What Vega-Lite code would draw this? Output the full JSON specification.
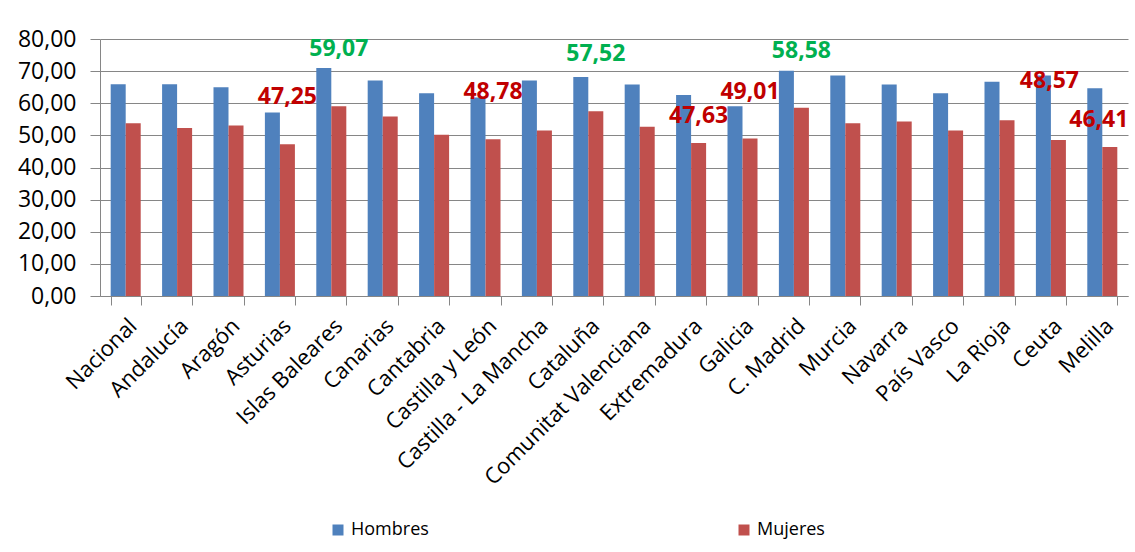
{
  "$schema": "https://vega.github.io/schema/vega-lite/v6.json",
  "width": 1028,
  "height": 257,
  "padding": {"left": 17, "top": 28, "right": 5, "bottom": 5},
  "background": "white",
  "config": {
    "locale": {"number": {"decimal": ",", "thousands": ".", "grouping": [3], "currency": ["", " €"]}},
    "font": "Open Sans",
    "view": {"stroke": null}
  },
  "data": {
    "values": [
      {"region": "Nacional", "sexo": "Hombres", "valor": 65.9},
      {"region": "Nacional", "sexo": "Mujeres", "valor": 53.8},
      {"region": "Andalucía", "sexo": "Hombres", "valor": 65.9},
      {"region": "Andalucía", "sexo": "Mujeres", "valor": 52.3},
      {"region": "Aragón", "sexo": "Hombres", "valor": 65.0},
      {"region": "Aragón", "sexo": "Mujeres", "valor": 53.1},
      {"region": "Asturias", "sexo": "Hombres", "valor": 57.1},
      {"region": "Asturias", "sexo": "Mujeres", "valor": 47.25},
      {"region": "Islas Baleares", "sexo": "Hombres", "valor": 71.0},
      {"region": "Islas Baleares", "sexo": "Mujeres", "valor": 59.07},
      {"region": "Canarias", "sexo": "Hombres", "valor": 67.1},
      {"region": "Canarias", "sexo": "Mujeres", "valor": 55.9},
      {"region": "Cantabria", "sexo": "Hombres", "valor": 63.1},
      {"region": "Cantabria", "sexo": "Mujeres", "valor": 50.2},
      {"region": "Castilla y León", "sexo": "Hombres", "valor": 61.8},
      {"region": "Castilla y León", "sexo": "Mujeres", "valor": 48.78},
      {"region": "Castilla - La Mancha", "sexo": "Hombres", "valor": 67.1},
      {"region": "Castilla - La Mancha", "sexo": "Mujeres", "valor": 51.5},
      {"region": "Cataluña", "sexo": "Hombres", "valor": 68.2},
      {"region": "Cataluña", "sexo": "Mujeres", "valor": 57.52},
      {"region": "Comunitat Valenciana", "sexo": "Hombres", "valor": 65.8},
      {"region": "Comunitat Valenciana", "sexo": "Mujeres", "valor": 52.7},
      {"region": "Extremadura", "sexo": "Hombres", "valor": 62.6},
      {"region": "Extremadura", "sexo": "Mujeres", "valor": 47.63},
      {"region": "Galicia", "sexo": "Hombres", "valor": 59.1},
      {"region": "Galicia", "sexo": "Mujeres", "valor": 49.01},
      {"region": "C. Madrid", "sexo": "Hombres", "valor": 70.1},
      {"region": "C. Madrid", "sexo": "Mujeres", "valor": 58.58},
      {"region": "Murcia", "sexo": "Hombres", "valor": 68.6},
      {"region": "Murcia", "sexo": "Mujeres", "valor": 53.8},
      {"region": "Navarra", "sexo": "Hombres", "valor": 65.8},
      {"region": "Navarra", "sexo": "Mujeres", "valor": 54.3},
      {"region": "País Vasco", "sexo": "Hombres", "valor": 63.1},
      {"region": "País Vasco", "sexo": "Mujeres", "valor": 51.5},
      {"region": "La Rioja", "sexo": "Hombres", "valor": 66.7},
      {"region": "La Rioja", "sexo": "Mujeres", "valor": 54.7},
      {"region": "Ceuta", "sexo": "Hombres", "valor": 68.6},
      {"region": "Ceuta", "sexo": "Mujeres", "valor": 48.57},
      {"region": "Melilla", "sexo": "Hombres", "valor": 64.7},
      {"region": "Melilla", "sexo": "Mujeres", "valor": 46.41}
    ]
  },
  "encoding": {
    "x": {
      "field": "region",
      "type": "nominal",
      "sort": null,
      "scale": {"paddingInner": 0.416, "paddingOuter": 0.208},
      "axis": {
        "title": null,
        "labelAngle": -45,
        "labelFontSize": 22,
        "labelLimit": 400,
        "labelColor": "#000000",
        "labelPadding": 10,
        "tickBand": "extent",
        "tickSize": 9,
        "tickColor": "#868686",
        "domainColor": "#868686",
        "grid": false
      }
    },
    "xOffset": {"field": "sexo", "type": "nominal", "scale": {"domain": ["Hombres", "Mujeres"]}},
    "y": {
      "field": "valor",
      "type": "quantitative",
      "scale": {"domain": [0, 80]},
      "axis": {
        "title": null,
        "values": [0, 10, 20, 30, 40, 50, 60, 70, 80],
        "format": ".2f",
        "labelFontSize": 23,
        "labelColor": "#000000",
        "labelPadding": 14,
        "tickSize": 10,
        "tickColor": "#868686",
        "domainColor": "#868686",
        "gridColor": "#868686",
        "grid": true
      }
    }
  },
  "layer": [
    {
      "mark": {"type": "bar"},
      "encoding": {
        "color": {
          "field": "sexo",
          "type": "nominal",
          "scale": {"domain": ["Hombres", "Mujeres"], "range": ["#4F81BD", "#C0504D"]},
          "legend": {
            "title": null,
            "orient": "none",
            "direction": "horizontal",
            "legendX": 229,
            "legendY": 482,
            "symbolType": "square",
            "symbolSize": 121,
            "symbolStrokeWidth": 0,
            "labelFontSize": 18,
            "labelColor": "#000000",
            "columnPadding": 306
          }
        }
      }
    },
    {
      "transform": [
        {"filter": {"field": "region", "oneOf": ["Islas Baleares", "Cataluña", "C. Madrid"]}},
        {"filter": "datum.sexo === 'Mujeres'"}
      ],
      "mark": {"type": "text", "fontWeight": "bold", "fontSize": 23, "baseline": "alphabetic", "dy": -50, "color": "#00B050"},
      "encoding": {
        "text": {"field": "valor", "type": "quantitative", "format": ".2f"}
      }
    },
    {
      "transform": [
        {"filter": {"field": "region", "oneOf": ["Ceuta"]}},
        {"filter": "datum.sexo === 'Mujeres'"}
      ],
      "mark": {"type": "text", "fontWeight": "bold", "fontSize": 23, "baseline": "alphabetic", "dy": -52, "dx": -9, "color": "#C00000"},
      "encoding": {
        "text": {"field": "valor", "type": "quantitative", "format": ".2f"}
      }
    },
    {
      "transform": [
        {"filter": {"field": "region", "oneOf": ["Asturias", "Castilla y León", "Galicia"]}},
        {"filter": "datum.sexo === 'Mujeres'"}
      ],
      "mark": {"type": "text", "fontWeight": "bold", "fontSize": 23, "baseline": "alphabetic", "dy": -40, "color": "#C00000"},
      "encoding": {
        "text": {"field": "valor", "type": "quantitative", "format": ".2f"}
      }
    },
    {
      "transform": [
        {"filter": {"field": "region", "oneOf": ["Extremadura"]}},
        {"filter": "datum.sexo === 'Mujeres'"}
      ],
      "mark": {"type": "text", "fontWeight": "bold", "fontSize": 23, "baseline": "alphabetic", "dy": -20, "color": "#C00000"},
      "encoding": {
        "text": {"field": "valor", "type": "quantitative", "format": ".2f"}
      }
    },
    {
      "transform": [
        {"filter": {"field": "region", "oneOf": ["Melilla"]}},
        {"filter": "datum.sexo === 'Mujeres'"}
      ],
      "mark": {"type": "text", "fontWeight": "bold", "fontSize": 23, "baseline": "alphabetic", "dy": -20, "dx": -11, "color": "#C00000"},
      "encoding": {
        "text": {"field": "valor", "type": "quantitative", "format": ".2f"}
      }
    }
  ]
}
